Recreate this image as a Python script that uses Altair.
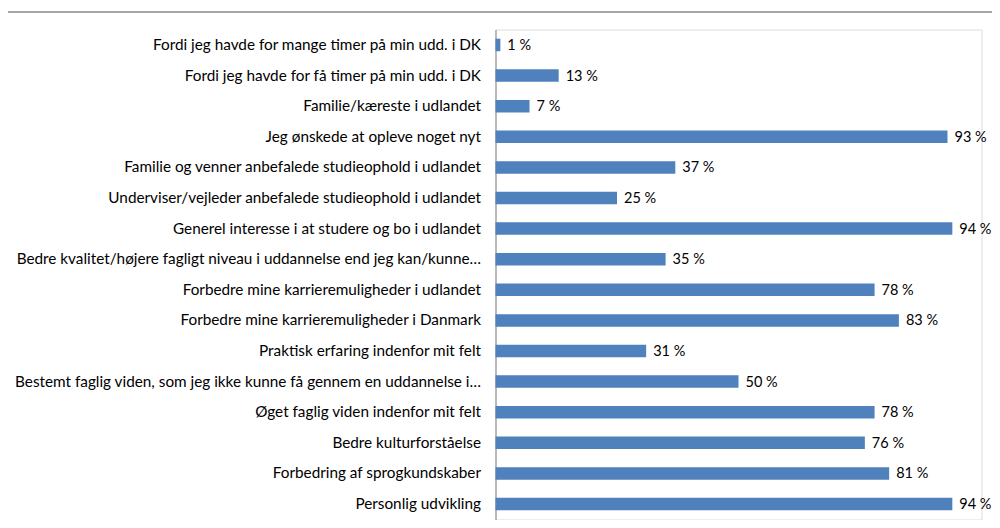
import altair as alt
import pandas as pd

categories = [
    "Fordi jeg havde for mange timer på min udd. i DK",
    "Fordi jeg havde for få timer på min udd. i DK",
    "Familie/kæreste i udlandet",
    "Jeg ønskede at opleve noget nyt",
    "Familie og venner anbefalede studieophold i udlandet",
    "Underviser/vejleder anbefalede studieophold i udlandet",
    "Generel interesse i at studere og bo i udlandet",
    "Bedre kvalitet/højere fagligt niveau i uddannelse end jeg kan/kunne…",
    "Forbedre mine karrieremuligheder i udlandet",
    "Forbedre mine karrieremuligheder i Danmark",
    "Praktisk erfaring indenfor mit felt",
    "Bestemt faglig viden, som jeg ikke kunne få gennem en uddannelse i…",
    "Øget faglig viden indenfor mit felt",
    "Bedre kulturforståelse",
    "Forbedring af sprogkundskaber",
    "Personlig udvikling",
]
values = [1, 13, 7, 93, 37, 25, 94, 35, 78, 83, 31, 50, 78, 76, 81, 94]

df = pd.DataFrame({"cat": categories, "val": values})
df["lab"] = df["val"].astype(str) + " %"

FONT = "Lato"

y = alt.Y("cat:N", sort=categories, title=None,
          scale=alt.Scale(paddingInner=0.59, paddingOuter=0.3),
          axis=alt.Axis(domainColor="#868686", domainWidth=1, ticks=False,
                        labelPadding=15, labelFontSize=15.3, labelFont=FONT,
                        labelColor="#000000", labelLimit=480))
x = alt.X("val:Q", scale=alt.Scale(domain=[0, 100]), axis=None)

base_frame = alt.Chart(pd.DataFrame({"a": [0]}))
frame_left = base_frame.mark_rule(color="#8a8a8a", strokeWidth=1.5).encode(
    x=alt.value(-490.5), y=alt.value(-17.5), y2=alt.value(496))
frame_top = base_frame.mark_rule(color="#8a8a8a", strokeWidth=1.5).encode(
    x=alt.value(-490.5), x2=alt.value(500), y=alt.value(-17.5))

bars = alt.Chart(df).mark_bar(size=12.5, color="#4F81BD").encode(x=x, y=y)
labels = alt.Chart(df).mark_text(align="left", baseline="middle", dx=7, dy=1,
                                 font=FONT, fontSize=14.5, color="#000000").encode(
    x=x, y=y, text="lab:N")

chart = alt.layer(frame_left, frame_top, bars, labels).properties(
    width=486, height=490,
    autosize=alt.AutoSizeParams(type="none"),
    padding={"left": 487.5, "top": 21.5, "right": 10.5, "bottom": 0.5},
).configure_view(stroke="transparent", strokeWidth=0).configure(background="white")

chart.save("out.html", embed_options={"renderer": "svg", "actions": False})
